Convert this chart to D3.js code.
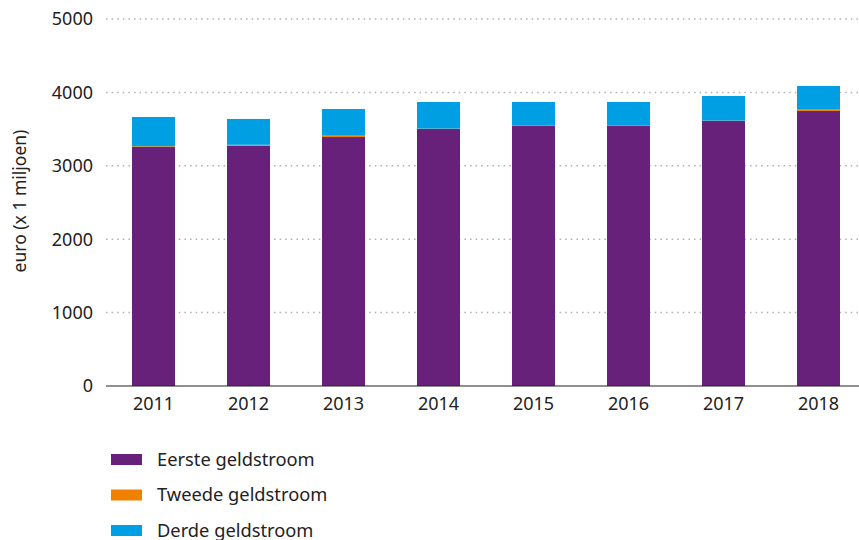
<!DOCTYPE html>
<html>
<head>
<meta charset="utf-8">
<script src="https://cdn.jsdelivr.net/npm/d3@7"></script>
<style>
  body { margin: 0; background: #fff; }
  svg { display: block; font-family: "Noto Sans", sans-serif; }
</style>
</head>
<body>
<div id="chart"></div>
<script>
var width = 859;
var height = 540;

var years = ["2011", "2012", "2013", "2014", "2015", "2016", "2017", "2018"];
var eerste = [3256, 3274, 3392, 3501, 3542, 3542, 3610, 3747];
var tweede = [10, 12, 18, 5, 14, 14, 5, 18];
var derde = [399, 352, 364, 363, 313, 313, 336, 322];
var seriesNames = ["Eerste geldstroom", "Tweede geldstroom", "Derde geldstroom"];
var colors = ["#68217a", "#f08100", "#009fe3"];
var yTicks = [0, 1000, 2000, 3000, 4000, 5000];

var margin = { top: 19, left: 106, bottom: 386 };

var svg = d3.select("#chart")
  .append("svg")
  .attr("width", width)
  .attr("height", height);

var x = d3.scaleBand()
  .domain(years)
  .range([margin.left, margin.left + 95 * years.length])
  .paddingInner(52 / 95)
  .paddingOuter(26 / 95);

var y = d3.scaleLinear()
  .domain([0, 5000])
  .range([margin.bottom, margin.top]);

// gridlines
svg.selectAll(".grid")
  .data(yTicks.filter(function(d) { return d > 0; }))
  .enter()
  .append("line")
    .attr("x1", margin.left)
    .attr("x2", width)
    .attr("y1", function(d) { return y(d); })
    .attr("y2", function(d) { return y(d); })
    .attr("stroke", "#b0b0b0")
    .attr("stroke-width", 1.5)
    .attr("stroke-dasharray", "1.5,4.1");

// y tick labels
svg.selectAll(".ylab")
  .data(yTicks)
  .enter()
  .append("text")
    .attr("x", 93)
    .attr("y", function(d) { return y(d); })
    .attr("dy", "0.35em")
    .attr("text-anchor", "end")
    .attr("font-size", 18)
    .attr("fill", "#222")
    .text(function(d) { return d; });

// stacked bars
var rows = years.map(function(yr, i) {
  return { year: yr, a: eerste[i], b: tweede[i], c: derde[i] };
});
var stack = d3.stack().keys(["a", "b", "c"]);
var layers = stack(rows);

svg.selectAll(".layer")
  .data(layers)
  .enter()
  .append("g")
    .attr("fill", function(d, i) { return colors[i]; })
  .selectAll("rect")
  .data(function(d) { return d; })
  .enter()
  .append("rect")
    .attr("x", function(d) { return x(d.data.year); })
    .attr("width", x.bandwidth())
    .attr("y", function(d) { return y(d[1]); })
    .attr("height", function(d) { return y(d[0]) - y(d[1]); });

// baseline
svg.append("line")
  .attr("x1", margin.left)
  .attr("x2", width)
  .attr("y1", y(0))
  .attr("y2", y(0))
  .attr("stroke", "#222")
  .attr("stroke-width", 1.2);

// x labels
svg.selectAll(".xlab")
  .data(years)
  .enter()
  .append("text")
    .attr("x", function(d) { return x(d) + x.bandwidth() / 2; })
    .attr("y", 410)
    .attr("text-anchor", "middle")
    .attr("font-size", 18)
    .attr("fill", "#222")
    .text(function(d) { return d; });

// y title
svg.append("text")
  .attr("transform", "translate(26,201) rotate(-90)")
  .attr("text-anchor", "middle")
  .attr("font-size", 17.5)
  .attr("fill", "#222")
  .text("euro (x 1 miljoen)");

// legend
var legend = svg.selectAll(".legend")
  .data(seriesNames)
  .enter()
  .append("g")
    .attr("transform", function(d, i) { return "translate(111," + (454 + i * 35.5) + ")"; });

legend.append("rect")
  .attr("width", 31)
  .attr("height", 11)
  .attr("fill", function(d, i) { return colors[i]; });

legend.append("text")
  .attr("x", 46)
  .attr("y", 5.5)
  .attr("dy", "0.35em")
  .attr("font-size", 18.3)
  .attr("fill", "#222")
  .text(function(d) { return d; });
</script>
</body>
</html>
